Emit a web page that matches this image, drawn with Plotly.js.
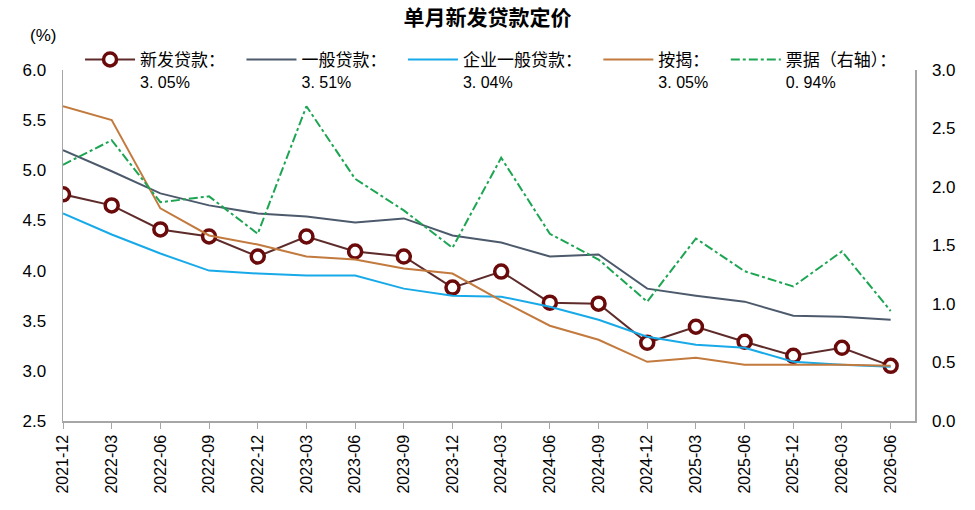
<!DOCTYPE html>
<html>
<head>
<meta charset="utf-8">
<script src="https://cdn.plot.ly/plotly-3.0.1.min.js"></script>
<style>
  html, body { margin: 0; padding: 0; background: #fff; }
  #chart { width: 975px; height: 510px; }
</style>
</head>
<body>
<div id="chart"></div>
<script>
// quarter labels (2025-09 is absent in the source)
var periods = ["2021-12", "2022-03", "2022-06", "2022-09", "2022-12", "2023-03", "2023-06", "2023-09", "2023-12",
               "2024-03", "2024-06", "2024-09", "2024-12", "2025-03", "2025-06", "2025-12", "2026-03", "2026-06"];

var newLoans       = [4.76, 4.65, 4.41, 4.34, 4.14, 4.34, 4.19, 4.14, 3.83, 3.99, 3.68, 3.67, 3.28, 3.44, 3.29, 3.15, 3.23, 3.05];
var generalLoans   = [5.20, 4.99, 4.77, 4.65, 4.57, 4.54, 4.48, 4.52, 4.35, 4.28, 4.14, 4.16, 3.82, 3.75, 3.69, 3.55, 3.54, 3.51];
var corporateLoans = [4.57, 4.36, 4.17, 4.00, 3.97, 3.95, 3.95, 3.82, 3.75, 3.74, 3.64, 3.51, 3.34, 3.26, 3.23, 3.09, 3.06, 3.04];
var mortgages      = [5.64, 5.50, 4.62, 4.35, 4.26, 4.14, 4.11, 4.02, 3.97, 3.70, 3.45, 3.31, 3.09, 3.13, 3.06, 3.06, 3.06, 3.05];
var bills          = [2.19, 2.40, 1.87, 1.92, 1.60, 2.69, 2.07, 1.80, 1.48, 2.25, 1.60, 1.38, 1.02, 1.56, 1.28, 1.15, 1.45, 0.94];

var seriesNames  = ["新发贷款", "一般贷款", "企业一般贷款", "按揭", "票据（右轴）"];
var latestLabels = ["3. 05%", "3. 51%", "3. 04%", "3. 05%", "0. 94%"];

var cjk = "'Noto Sans CJK SC', 'Noto Sans', sans-serif";
var latin = "'Liberation Sans', Arial, sans-serif";

// name line padded a little so the legend entries spread out like the source;
// the latest value sits on a second line in a compact latin face
function legendName(i)
{
    var pad = i < seriesNames.length - 1 ? "&nbsp;&nbsp;&nbsp;" : "";
    return seriesNames[i] + "：" + pad +
           "<br><span style=\"font-family:'Liberation Sans', Arial, sans-serif;font-size:16px\">" +
           latestLabels[i] + "</span>";
}

var newLoansTrace =
{
    x: periods,
    y: newLoans,
    name: legendName(0),
    type: "scatter",
    mode: "lines+markers",
    line: { color: "#5e2b2b", width: 2 },
    marker: { symbol: "circle", size: 13, color: "#ffffff", line: { color: "#6b0a0a", width: 3.5 } }
};

var generalLoansTrace =
{
    x: periods,
    y: generalLoans,
    name: legendName(1),
    type: "scatter",
    mode: "lines",
    line: { color: "#4c5a6c", width: 2 }
};

var corporateLoansTrace =
{
    x: periods,
    y: corporateLoans,
    name: legendName(2),
    type: "scatter",
    mode: "lines",
    line: { color: "#18aae8", width: 2 }
};

var mortgagesTrace =
{
    x: periods,
    y: mortgages,
    name: legendName(3),
    type: "scatter",
    mode: "lines",
    line: { color: "#c27a3e", width: 2 }
};

var billsTrace =
{
    x: periods,
    y: bills,
    yaxis: "y2",
    name: legendName(4),
    type: "scatter",
    mode: "lines",
    line: { color: "#1ca552", width: 2, dash: "dashdot" }
};

var data = [newLoansTrace, generalLoansTrace, corporateLoansTrace, mortgagesTrace, billsTrace];

var layout =
{
    width: 975,
    height: 510,
    margin: { l: 63, r: 60, t: 70, b: 89 },
    paper_bgcolor: "#ffffff",
    plot_bgcolor: "#ffffff",
    font: { family: cjk, size: 15, color: "#000000" },
    title: { text: "<b>单月新发贷款定价</b>", x: 0.5, xanchor: "center", y: 0.965, yanchor: "middle",
             font: { family: cjk, size: 21, color: "#000000" } },
    showlegend: true,
    legend:
    {
        orientation: "h",
        x: 0.02,
        xanchor: "left",
        y: 1.08,
        yanchor: "top",
        valign: "top",
        bgcolor: "rgba(0,0,0,0)",
        font: { family: cjk, size: 17, color: "#000000" },
        itemwidth: 50,
        traceorder: "normal"
    },
    xaxis:
    {
        type: "category",
        range: [0, 17.5],
        showgrid: false,
        zeroline: false,
        showline: true,
        linecolor: "#a6a6a6",
        linewidth: 1.5,
        ticks: "outside",
        ticklen: 6,
        tickcolor: "#a6a6a6",
        tickangle: -90,
        tickfont: { family: latin, size: 16, color: "#000000" }
    },
    yaxis:
    {
        range: [2.5, 6.0],
        dtick: 0.5,
        tick0: 2.5,
        tickformat: ".1f",
        showgrid: false,
        zeroline: false,
        showline: true,
        linecolor: "#a6a6a6",
        linewidth: 1.5,
        ticks: "",
        ticklabelstandoff: 12,
        tickfont: { family: latin, size: 17, color: "#000000" }
    },
    yaxis2:
    {
        overlaying: "y",
        side: "right",
        range: [0, 3.0],
        dtick: 0.5,
        tick0: 0,
        tickformat: ".1f",
        showgrid: false,
        zeroline: false,
        showline: true,
        linecolor: "#a6a6a6",
        linewidth: 1.5,
        ticks: "",
        ticklabelstandoff: 12,
        tickfont: { family: latin, size: 17, color: "#000000" }
    },
    annotations:
    [
        {
            text: "(%)",
            xref: "paper", yref: "paper",
            x: -0.024, y: 1.097,
            xanchor: "center", yanchor: "middle",
            showarrow: false,
            font: { family: latin, size: 17, color: "#000000" }
        }
    ]
};

var config = { staticPlot: true, displayModeBar: false };

Plotly.newPlot("chart", data, layout, config);
</script>
</body>
</html>
